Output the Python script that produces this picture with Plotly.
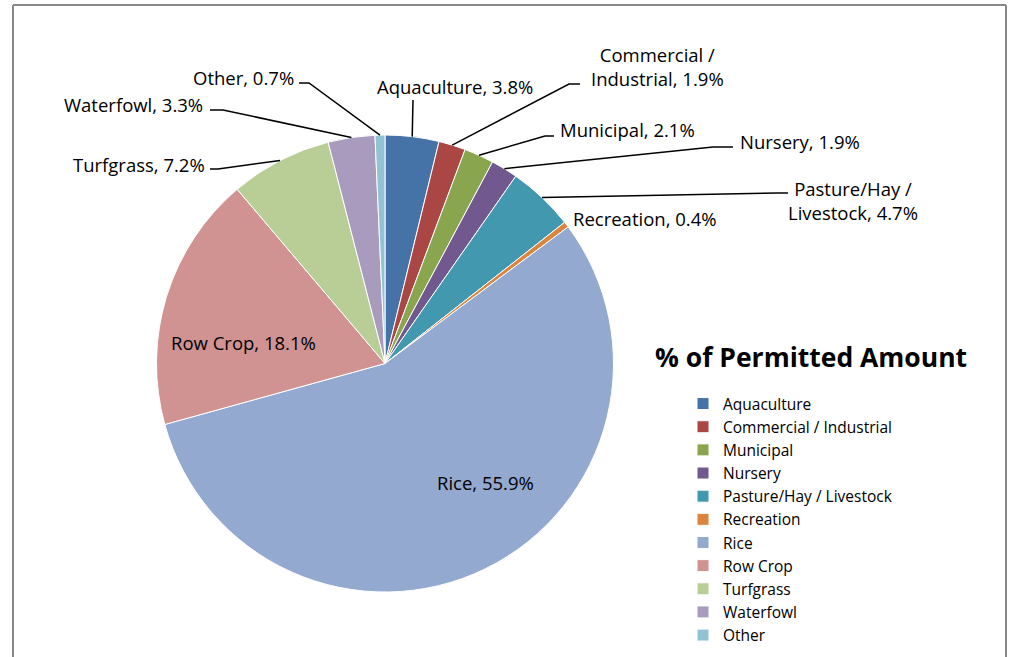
import math
import plotly.graph_objects as go

W, H = 1019, 657

labels = ["Aquaculture", "Commercial / Industrial", "Municipal", "Nursery",
          "Pasture/Hay / Livestock", "Recreation", "Rice", "Row Crop",
          "Turfgrass", "Waterfowl", "Other"]
values = [3.8, 1.9, 2.1, 1.9, 4.7, 0.4, 55.9, 18.1, 7.2, 3.3, 0.7]
colors = ["#4572A7", "#AA4643", "#89A54E", "#71588F", "#4198AF", "#DB843D",
          "#93A9CF", "#D19392", "#B9CD96", "#A99BBD", "#91C3D5"]
legend_title = "% of Permitted Amount"

FONT = "Open Sans"

# pie geometry (pixels)
CX, CY, R = 385, 363.5, 228.5


def px(x):
    return x / W


def py(y):
    return 1 - y / H


# label placement (pixels): text anchor point, anchor side, leader elbow points
label_layout = {
    "Aquaculture": dict(x=455, y=86, xa="center", path=[(413, 100)]),
    "Commercial / Industrial": dict(x=657, y=66, xa="center", path=[(569, 84), (580, 84)]),
    "Municipal": dict(x=558, y=129, xa="left", path=[(545, 136), (554, 136)]),
    "Nursery": dict(x=738, y=141, xa="left", path=[(713, 147), (733, 147)]),
    "Pasture/Hay / Livestock": dict(x=853, y=200, xa="center", path=[(778, 193), (788, 193)]),
    "Recreation": dict(x=571, y=219, xa="left", path=None),
    "Rice": dict(x=485, y=482, xa="center", path=None),
    "Row Crop": dict(x=243, y=342, xa="center", path=None),
    "Turfgrass": dict(x=207, y=164, xa="right", path=[(218, 169), (210, 169)]),
    "Waterfowl": dict(x=205, y=104, xa="right", path=[(223, 110), (210, 110)]),
    "Other": dict(x=296, y=77, xa="right", path=[(309, 83), (299, 83)]),
}

fig = go.Figure()
fig.add_trace(go.Pie(
    labels=labels, values=values, sort=False, direction="clockwise", rotation=0,
    marker=dict(colors=colors, line=dict(color="white", width=1)),
    textinfo="none", hoverinfo="label+percent",
    domain=dict(x=[px(CX - R), px(CX + R)], y=[py(CY + R), py(CY - R)]),
))

total = sum(values)
annotations = []
shapes = []
cum = 0.0
for lab, v in zip(labels, values):
    mid = (cum + v / 2) / total * 2 * math.pi
    cum += v
    ex = CX + R * math.sin(mid)
    ey = CY - R * math.cos(mid)
    spec = label_layout[lab]
    text = f"{lab}, {v:.1f}%".replace(" / ", " /<br>")
    annotations.append(dict(
        x=px(spec["x"]), y=py(spec["y"]), xref="paper", yref="paper",
        text=text, showarrow=False, xanchor=spec["xa"], yanchor="middle",
        align="center", font=dict(family=FONT, size=18.5, color="black"),
    ))
    if spec["path"]:
        pts = [(ex, ey)] + spec["path"]
        d = "M " + " L ".join(f"{px(a):.5f},{py(b):.5f}" for a, b in pts)
        shapes.append(dict(type="path", path=d, xref="paper", yref="paper",
                           line=dict(color="black", width=1.5)))

# legend title
annotations.append(dict(
    x=px(811), y=py(357), xref="paper", yref="paper", text="<b>" + legend_title + "</b>",
    showarrow=False, xanchor="center", yanchor="middle",
    font=dict(family=FONT, size=26.5, color="black"),
))

# chart frame
frame = dict(color="#888888", width=2)
shapes += [
    dict(type="line", xref="paper", yref="paper", x0=px(13), x1=px(13), y0=py(5), y1=-0.05, line=frame),
    dict(type="line", xref="paper", yref="paper", x0=px(13), x1=px(1006), y0=py(5), y1=py(5), line=frame),
    dict(type="line", xref="paper", yref="paper", x0=px(1006), x1=px(1006), y0=py(5), y1=-0.05, line=frame),
]

fig.update_layout(
    width=W, height=H, margin=dict(l=0, r=0, t=0, b=0),
    paper_bgcolor="white", plot_bgcolor="white",
    showlegend=True,
    legend=dict(x=px(683), y=py(652), xanchor="left", yanchor="bottom",
                font=dict(family=FONT, size=15.5, color="black"),
                bgcolor="rgba(0,0,0,0)", traceorder="normal"),
    annotations=annotations, shapes=shapes,
)

fig.write_html("out.html", config={"displayModeBar": False},
               post_script="document.body.style.margin='0';document.body.style.overflow='hidden';")
